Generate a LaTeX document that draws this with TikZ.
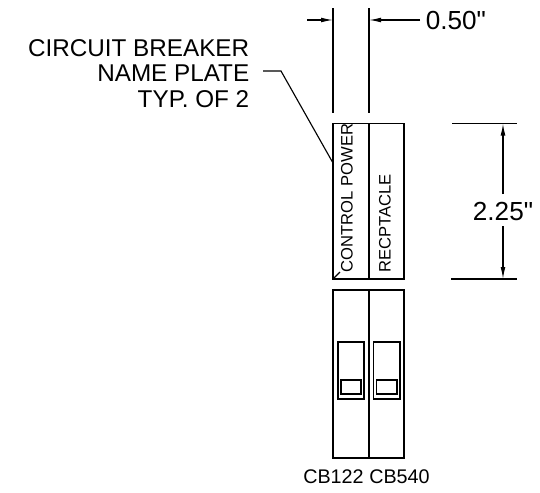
\documentclass[tikz,border=0pt]{standalone}
\usepackage{fontspec}
\setmainfont{Liberation Sans}
\newfontfamily\straightfont{Liberation Sans}
\usetikzlibrary{arrows.meta}
\tikzset{
  px/.style={x=0.75pt,y=-0.75pt},
  heavy/.style={draw=black,line width=1.1pt},
  thin line/.style={draw=black,line width=0.85pt},
  tip/.style={-{Latex[length=9pt,width=3.6pt]}},
  labelbig/.style={font=\fontsize{18.2pt}{18.2pt}\selectfont,inner sep=0pt,text=black},
  labeldim/.style={font=\fontsize{19.6pt}{19.6pt}\straightfont,inner sep=0pt,text=black},
  labelcb/.style={font=\fontsize{14.8pt}{14.8pt}\selectfont,inner sep=0pt,text=black},
  labelsmall/.style={font=\fontsize{12.45pt}{12.45pt}\selectfont,inner sep=0pt,text=black,rotate=90},
}
\begin{document}
\begin{tikzpicture}[px]
\useasboundingbox (0,0) rectangle (540,493);
% name plate
\draw[heavy] (333,123.5) rectangle (404,279);
\draw[heavy] (369,123.5) -- (369,279);
% breakers
\draw[heavy] (333,290) rectangle (404,458);
\draw[heavy] (369,290) -- (369,458);
\draw[thin line] (338,342) rectangle (364,399);
\draw[heavy] (341,380) rectangle (361,394);
\draw[thin line] (373.5,342) rectangle (400,399);
\draw[heavy] (376.5,380) rectangle (397,394);
% width dimension
\coordinate (wl1) at (333,8); \coordinate (wl2) at (333,113);
\coordinate (wr1) at (369,8); \coordinate (wr2) at (369,113);
\draw[heavy] (wl1) -- (wl2);
\draw[heavy] (wr1) -- (wr2);
\coordinate (wa0) at (307,20); \coordinate (wa1) at (333,20);
\coordinate (wb0) at (420,20); \coordinate (wb1) at (369,20);
\node[labeldim,anchor=west] (wlabel) at (425.5,21) {0.50"};
\draw[thin line,tip] (wa0) -- (wa1);
\draw[thin line,tip] (wb0) -- (wb1);
% height dimension
\coordinate (ht1) at (452,123.5); \coordinate (ht2) at (517,123.5);
\coordinate (hb1) at (451,279); \coordinate (hb2) at (517,279);
\coordinate (hte) at (503,123.5); \coordinate (hbe) at (503,279);
\draw[heavy] (ht1) -- (ht2);
\draw[heavy] (hb1) -- (hb2);
\node[labeldim] (hlabel) at (503,211.5) {2.25"};
\coordinate (hu) at (503,194); \coordinate (hd) at (503,226);
\draw[thin line,tip] (hu) -- (hte);
\draw[thin line,tip] (hd) -- (hbe);
% callout
\node[labelbig,anchor=east] (c1) at (249.5,48) {CIRCUIT BREAKER};
\node[labelbig,anchor=east] (c2) at (249.5,73.5) {NAME PLATE};
\node[labelbig,anchor=east] (c3) at (249.5,99.5) {TYP. OF 2};
\coordinate (la) at (263,71); \coordinate (lb) at (281,71); \coordinate (lc) at (333,163);
\draw[thin line] (la) -- (lb) -- (lc);
\coordinate (ca) at (340,272); \coordinate (cb) at (333,279);
\draw[thin line] (ca) -- (cb);
% plate text
\node[labelsmall,anchor=west] (p1) at (347,272.5) {CONTROL POWER};
\node[labelsmall,anchor=west] (p2) at (385,273) {RECPTACLE};
% breaker labels
\node[labelcb,anchor=west] (b1) at (303,476.5) {CB122};
\node[labelcb,anchor=west] (b2) at (369,476.5) {CB540};
\end{tikzpicture}
\end{document}
